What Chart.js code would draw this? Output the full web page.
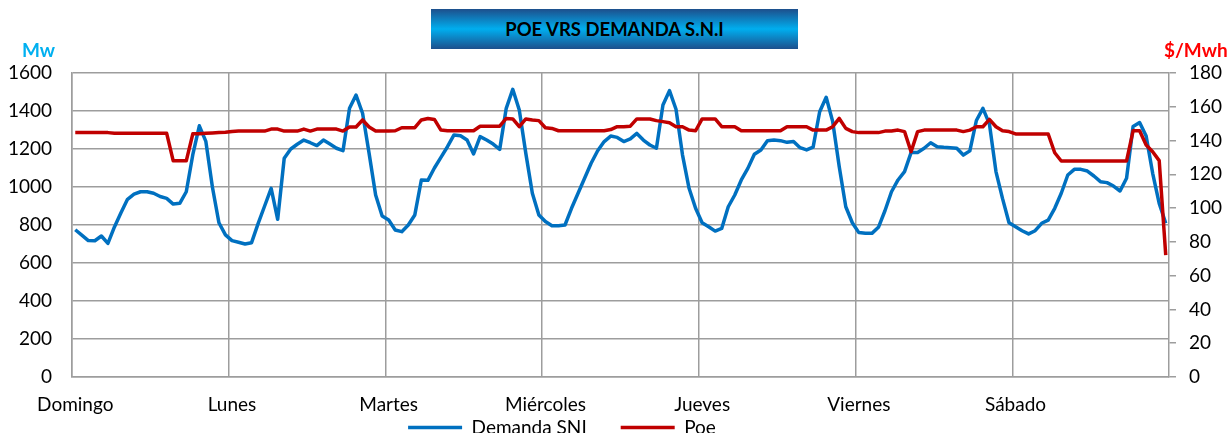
<!DOCTYPE html>
<html>
<head>
<meta charset="utf-8">
<script src="https://cdn.jsdelivr.net/npm/chart.js@4"></script>
<style>
  html, body { margin: 0; padding: 0; overflow: hidden; background: #fff; }
  #wrap { position: relative; width: 1230px; height: 433px; }
  #titulo {
    position: absolute; left: 431px; top: 9px; width: 367px; height: 40px;
    background: linear-gradient(#1d4f8c, #00aeef 50%, #1d4f8c);
    font: bold 18.5px Lato, sans-serif; color: #000;
    text-align: center; line-height: 40px;
  }
  .unidad { position: absolute; top: 38px; font: bold 19px Lato, sans-serif; }
</style>
</head>
<body>
<div id="wrap">
  <canvas id="grafica" width="1230" height="480"></canvas>
  <div id="titulo">POE VRS DEMANDA S.N.I</div>
  <div class="unidad" style="left:22px;color:#00b0f0">Mw</div>
  <div class="unidad" style="left:1164px;color:#ff0000">$/Mwh</div>
</div>
<script>
var dias = ["Domingo", "Lunes", "Martes", "Miércoles", "Jueves", "Viernes", "Sábado"];
var horasPorDia = 24;

// Demanda SNI (Mw), una fila por dia, 24 horas
var demanda = [
  775, 747, 718, 717, 742, 703, 790, 865, 935, 962, 975, 975, 967, 950, 940, 910, 914, 975, 1170, 1322, 1240, 1000, 812, 748,
  718, 709, 700, 707, 807, 900, 993, 830, 1151, 1200, 1225, 1247, 1233, 1218, 1247, 1226, 1204, 1191, 1414, 1484, 1388, 1177, 958, 847,
  826, 774, 765, 800, 853, 1037, 1035, 1100, 1156, 1212, 1274, 1270, 1247, 1174, 1265, 1247, 1226, 1198, 1414, 1514, 1405, 1177, 967, 853,
  818, 796, 796, 800, 888, 967, 1046, 1125, 1191, 1239, 1268, 1261, 1239, 1253, 1282, 1247, 1221, 1204, 1432, 1507, 1409, 1168, 993, 888,
  812, 791, 768, 782, 896, 958, 1037, 1098, 1172, 1195, 1244, 1247, 1244, 1235, 1240, 1207, 1195, 1210, 1396, 1472, 1344, 1107, 896, 812,
  760, 756, 756, 788, 875, 975, 1037, 1081, 1181, 1182, 1204, 1233, 1212, 1209, 1207, 1204, 1168, 1190, 1350, 1414, 1332, 1081, 940, 812,
  791, 770, 753, 770, 809, 826, 888, 967, 1063, 1093, 1093, 1084, 1058, 1028, 1023, 1005, 979, 1046, 1318, 1339, 1268, 1072, 914, 809
];

// Poe ($/Mwh)
var poe = [
  144.7, 144.7, 144.7, 144.7, 144.7, 144.7, 144.3, 144.3, 144.3, 144.3, 144.3, 144.3, 144.3, 144.3, 144.3, 128, 128, 128, 144, 144.1, 144.3, 144.5, 144.7, 144.9,
  145.4, 145.6, 145.6, 145.6, 145.6, 145.6, 146.8, 146.8, 145.6, 145.6, 145.6, 146.8, 145.6, 146.8, 146.8, 146.8, 146.8, 145.6, 148, 148, 152.2, 148, 145.6, 145.6,
  145.6, 145.8, 147.6, 147.6, 147.6, 152.2, 153.1, 152.5, 146.2, 145.8, 145.8, 145.8, 145.8, 145.8, 148.5, 148.5, 148.5, 148.5, 153.1, 152.8, 148.2, 152.8, 152.2, 151.8,
  147.6, 147.2, 145.8, 145.8, 145.8, 145.8, 145.8, 145.8, 145.8, 145.8, 146.5, 148.2, 148.2, 148.5, 152.8, 152.8, 152.8, 151.8, 151.2, 150.6, 148.2, 148.2, 146.2, 145.8,
  152.8, 152.8, 152.8, 148.2, 148.2, 148.2, 145.8, 145.8, 145.8, 145.8, 145.8, 145.8, 145.8, 148.2, 148.2, 148.2, 148.2, 146.2, 146.2, 146.2, 148.2, 153.1, 147.2, 145.3,
  144.7, 144.7, 144.7, 144.7, 145.6, 145.6, 146.2, 145.3, 133.4, 145.3, 146.2, 146.2, 146.2, 146.2, 146.2, 146.2, 145.3, 146.2, 148.2, 148.2, 152.5, 148.2, 145.8, 145.3,
  143.9, 143.9, 143.9, 143.9, 143.9, 143.9, 132.8, 127.9, 127.9, 127.9, 127.9, 127.9, 127.9, 127.9, 127.9, 127.9, 127.9, 127.9, 145.8, 145.8, 137.4, 133.4, 128.1, 72.2
];

var mwTicks = { min: 0, max: 1600, step: 200 };
var poeTicks = { min: 0, max: 180, step: 20 };

var etiquetas = [];
dias.forEach(dia => {
  for (let h = 0; h < horasPorDia; h++) {
    etiquetas.push(dia + " " + h + ":00");
  }
});

var gris = "#9d9d9d";
var fuente = { family: "Lato, sans-serif", size: 19 };

// la leyenda queda algo a la izquierda y medio cortada abajo, como en el original
var moverLeyenda = {
  id: "moverLeyenda",
  afterLayout: function (chart) {
    chart.legend.left -= 106;
    chart.legend.top -= 33;
    chart.legend.bottom -= 33;
  }
};

new Chart(document.getElementById("grafica"), {
  type: "line",
  data: {
    labels: etiquetas,
    datasets: [{
      label: "Demanda SNI",
      data: demanda,
      yAxisID: "y",
      borderColor: "#0070c0",
      backgroundColor: "#0070c0",
      borderWidth: 3.5,
      pointRadius: 0,
      tension: 0,
      borderJoinStyle: "round",
      order: 2
    }, {
      label: "Poe",
      data: poe,
      yAxisID: "y1",
      borderColor: "#c00000",
      backgroundColor: "#c00000",
      borderWidth: 3.5,
      pointRadius: 0,
      tension: 0,
      borderJoinStyle: "round",
      order: 1
    }]
  },
  options: {
    responsive: false,
    animation: false,
    layout: { padding: { top: 73, left: 0, right: 0, bottom: 0 } },
    plugins: {
      tooltip: { enabled: false },
      legend: {
        position: "bottom",
        labels: {
          font: fuente,
          color: "#000",
          usePointStyle: true,
          pointStyle: "line",
          pointStyleWidth: 54,
          padding: 34,
          sort: (a, b) => a.datasetIndex - b.datasetIndex
        }
      }
    },
    scales: {
      x: {
        offset: true,
        grid: {
          offset: true,
          drawTicks: false,
          lineWidth: 1.5,
          color: ctx => (ctx.index % horasPorDia === 0) ? gris : "rgba(0,0,0,0)"
        },
        border: { color: gris, width: 1.5 },
        ticks: {
          autoSkip: false,
          maxRotation: 0,
          padding: 16,
          font: fuente,
          color: "#000",
          callback: function (val, i) {
            return i % horasPorDia === 0 ? dias[i / horasPorDia] : "";
          }
        },
        afterFit: s => { s.height = 40; }
      },
      y: {
        position: "left",
        min: mwTicks.min,
        max: mwTicks.max,
        ticks: { stepSize: mwTicks.step, padding: 20, font: fuente, color: "#000", callback: v => String(v) },
        grid: { color: gris, lineWidth: 1.5, drawTicks: false },
        border: { color: gris, width: 1.5 },
        afterFit: s => { s.width = 72; }
      },
      y1: {
        position: "right",
        min: poeTicks.min,
        max: poeTicks.max,
        ticks: { stepSize: poeTicks.step, padding: 13, font: fuente, color: "#000", callback: v => String(v) },
        grid: { drawOnChartArea: false, color: gris, lineWidth: 1.5, tickLength: 7 },
        border: { color: gris, width: 1.5 },
        afterFit: s => { s.width = 61; }
      }
    }
  },
  plugins: [moverLeyenda]
});
</script>
</body>
</html>
